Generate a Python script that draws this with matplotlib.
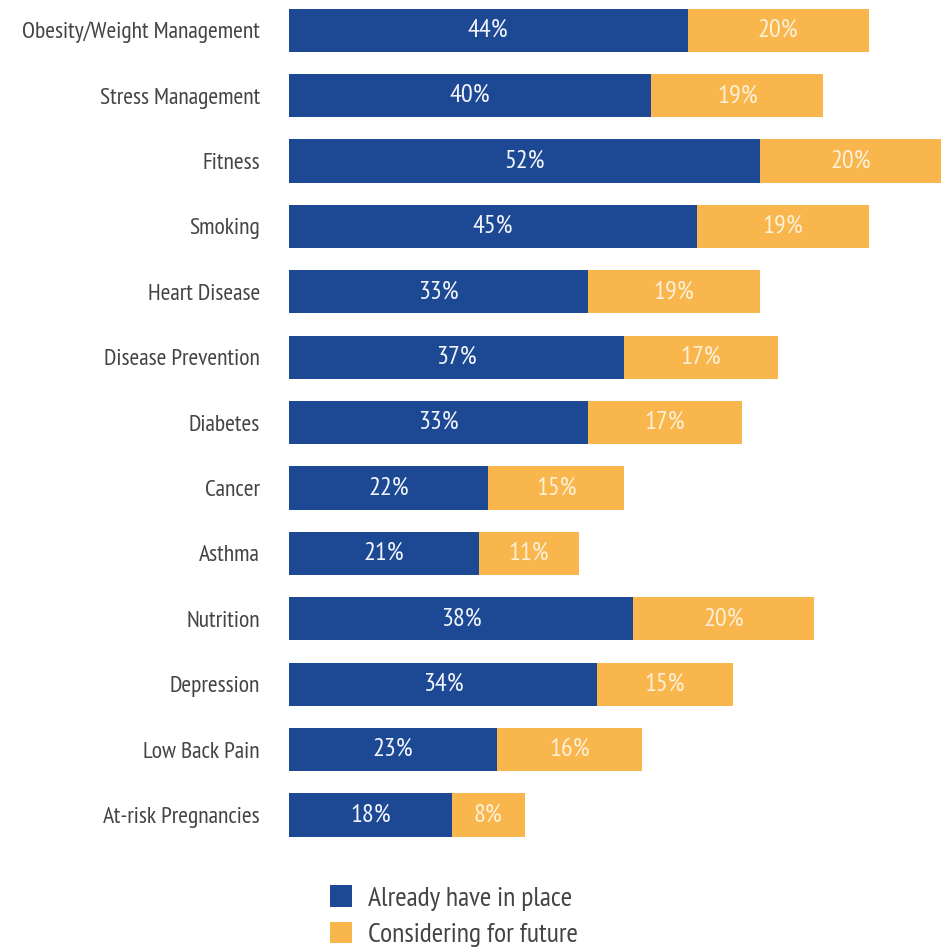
import matplotlib
matplotlib.use("Agg")
import matplotlib.pyplot as plt
from matplotlib.patches import Patch

plt.rcParams['font.family'] = ['PT Sans Narrow', 'DejaVu Sans']

categories = [
    "Obesity/Weight Management", "Stress Management", "Fitness", "Smoking",
    "Heart Disease", "Disease Prevention", "Diabetes", "Cancer", "Asthma",
    "Nutrition", "Depression", "Low Back Pain", "At-risk Pregnancies",
]
already = [44, 40, 52, 45, 33, 37, 33, 22, 21, 38, 34, 23, 18]
considering = [20, 19, 20, 19, 19, 17, 17, 15, 11, 20, 15, 16, 8]

BLUE = "#1d4894"
ORANGE = "#f8b64c"

fig = plt.figure(figsize=(9.43, 9.51), dpi=100)
ax = fig.add_axes([0.3065, 0.1203, 0.6915, 0.8707])

y = list(range(len(categories)))
ax.barh(y, already, height=0.66, color=BLUE, edgecolor="none")
ax.barh(y, considering, left=already, height=0.66, color=ORANGE, edgecolor="none")

for yi, a, c in zip(y, already, considering):
    ax.text(a / 2, yi, f"{a}%", ha="center", va="center",
            color="#f2f5fb", fontsize=19)
    ax.text(a + c / 2, yi, f"{c}%", ha="center", va="center",
            color="#fdf0d8", fontsize=19)

ax.set_xlim(0, 72)
ax.set_ylim(12.33, -0.33)
ax.set_yticks(y)
ax.set_yticklabels(categories, fontsize=17, color="#444444")
ax.tick_params(axis="y", length=0, pad=21)
ax.set_xticks([])
for s in ax.spines.values():
    s.set_visible(False)

handles = [Patch(facecolor=BLUE, edgecolor="none", label="Already have in place"),
           Patch(facecolor=ORANGE, edgecolor="none", label="Considering for future")]
fig.legend(handles=handles, loc="upper left", bbox_to_anchor=(0.35, 0.069),
           frameon=False, fontsize=20, labelcolor="#444444",
           handlelength=0.8, handleheight=0.8, handletextpad=0.55,
           labelspacing=0.4, borderaxespad=0, borderpad=0)

fig.savefig("out.png", dpi=100, facecolor="white")
